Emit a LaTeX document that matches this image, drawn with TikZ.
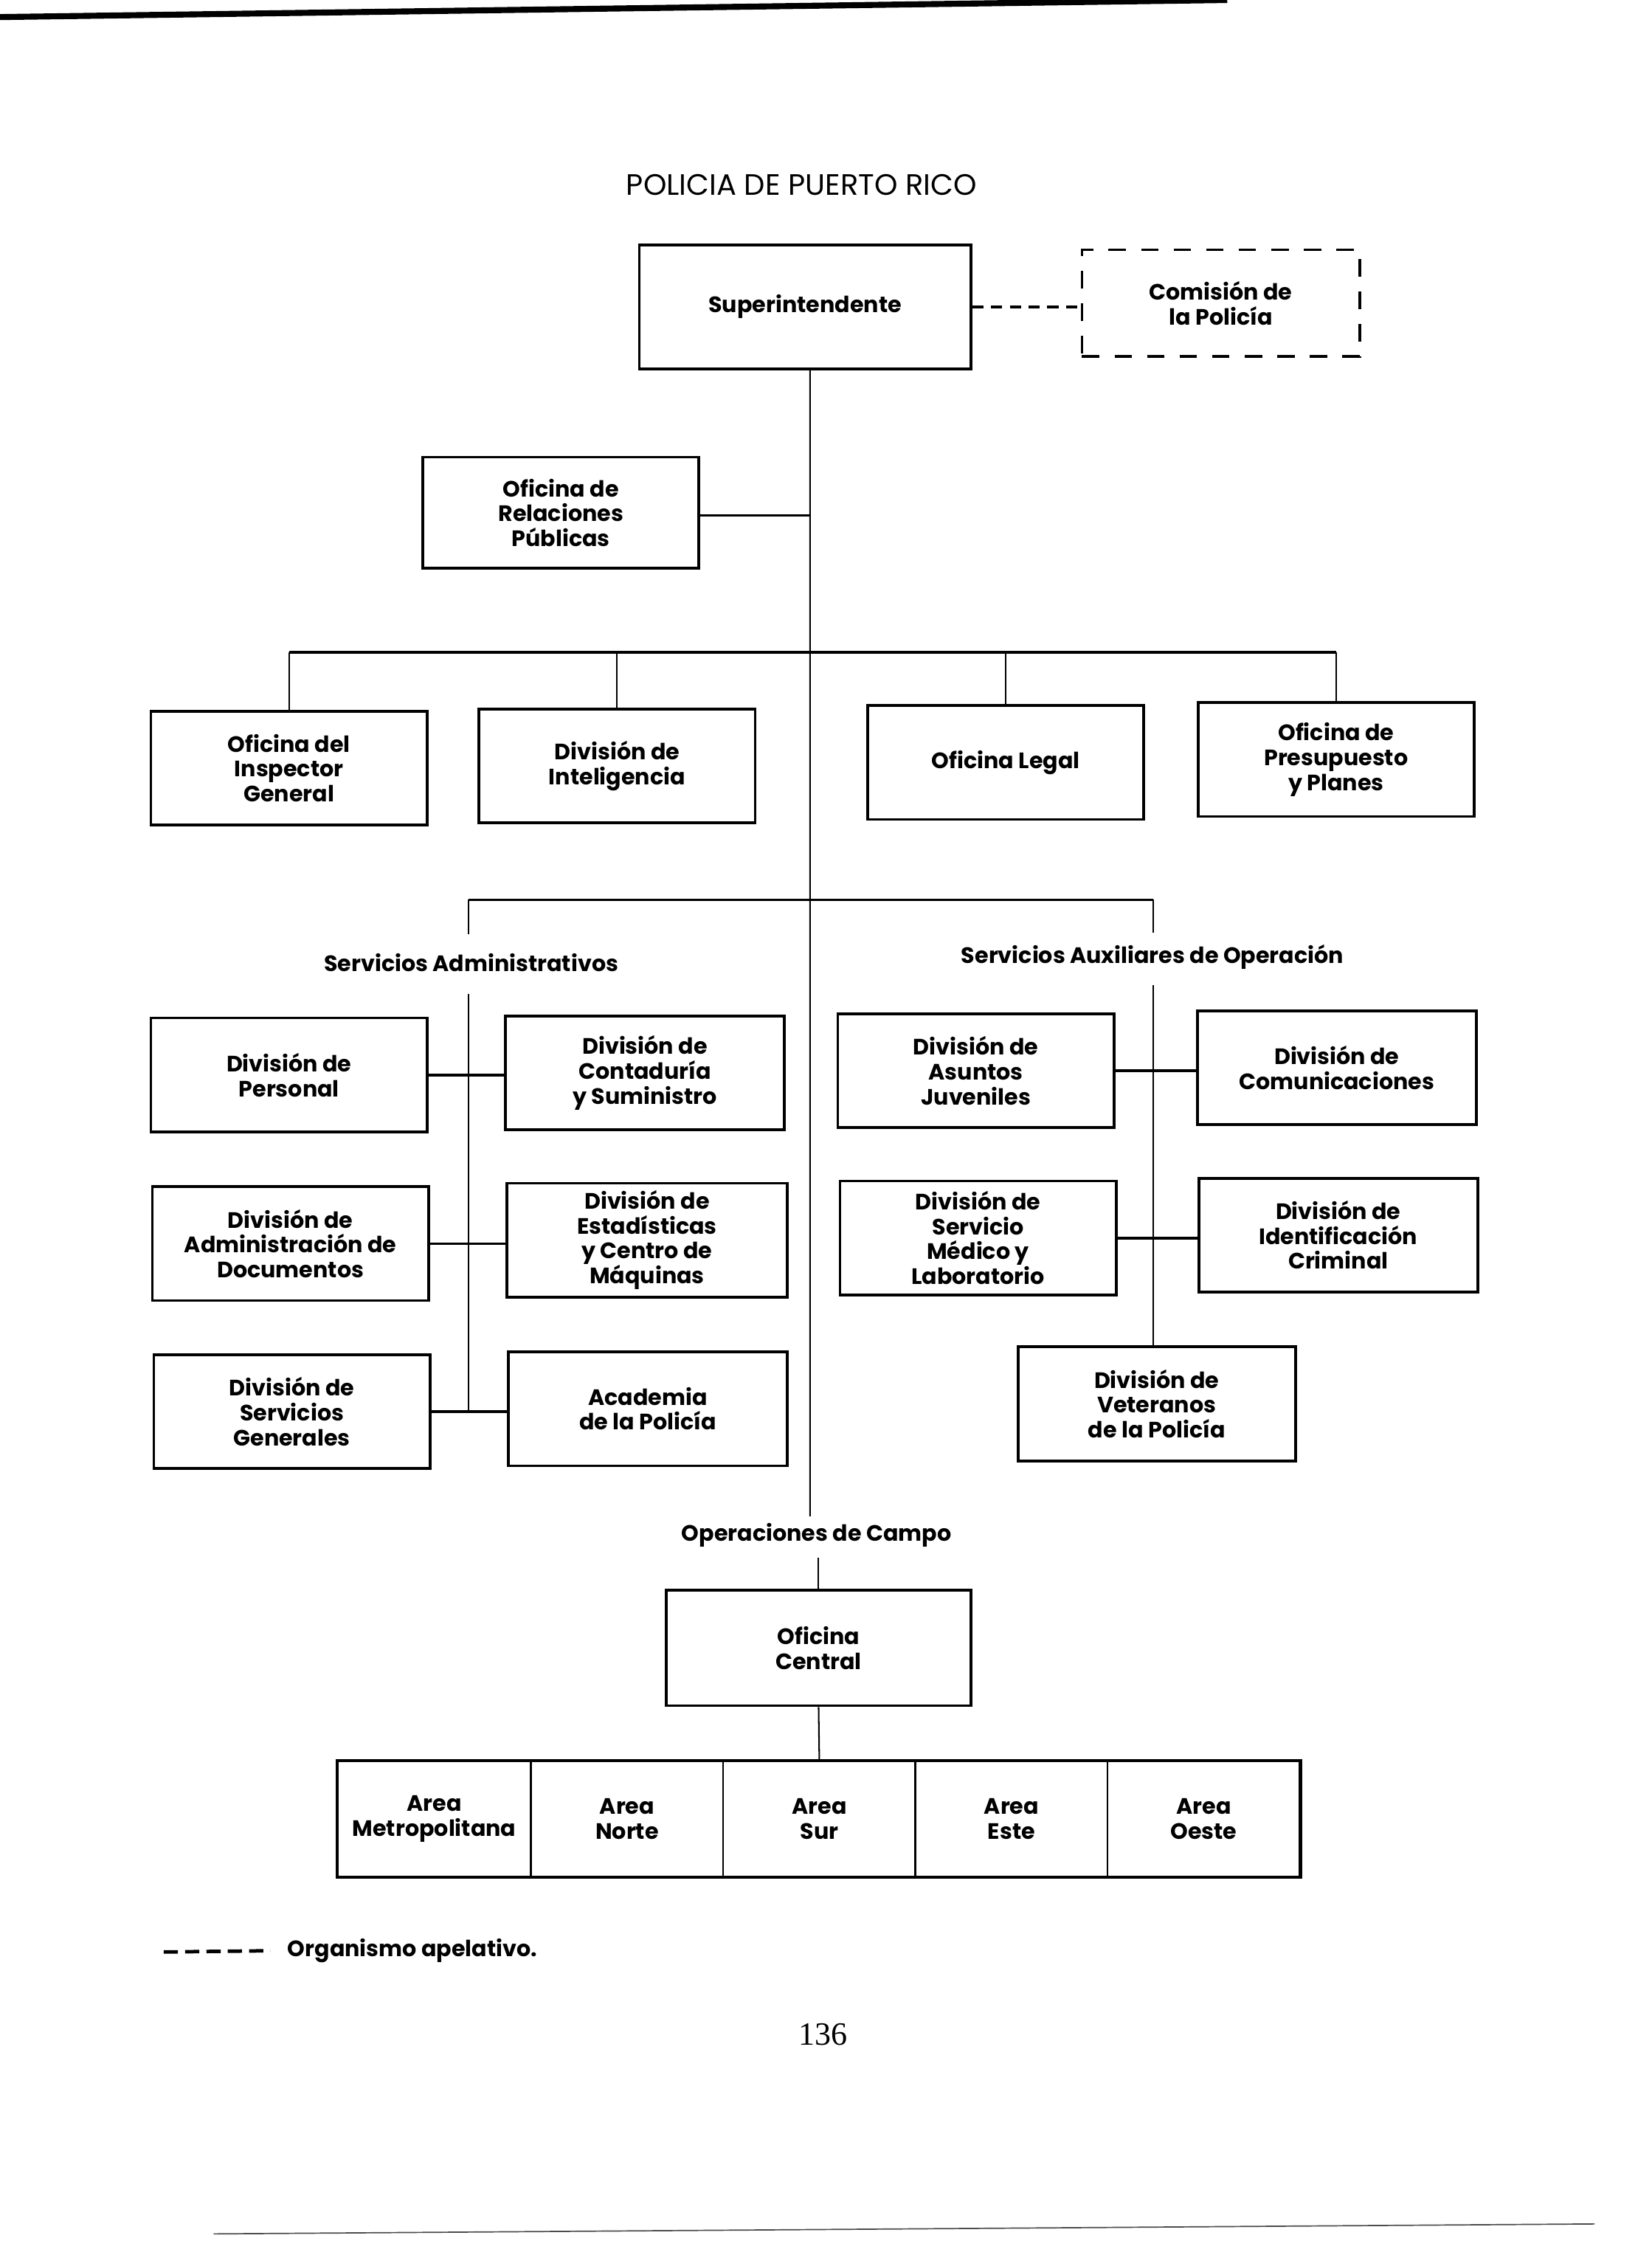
\documentclass[tikz,border=0pt]{standalone}
\usepackage{fontspec}
\setmainfont{Poppins}
\newfontfamily\pagefont{Liberation Serif}
\usetikzlibrary{calc}
\begin{document}
\begin{tikzpicture}[x=0.02cm,y=-0.02cm,
  boxtxt/.style={font=\bfseries\fontsize{8.9}{9.9}\selectfont},
  box/.style={draw, line width=1.1pt, rectangle, inner sep=0pt, align=center,
    minimum width=3.88cm, minimum height=1.6cm, boxtxt},
  areabox/.style={draw, line width=0.7pt, rectangle, inner sep=0pt, align=center,
    minimum width=2.7cm, minimum height=1.62cm, boxtxt},
  thinline/.style={line width=0.6pt},
  thickline/.style={line width=1.1pt},
  lbl/.style={boxtxt, inner sep=1pt}]
\useasboundingbox (0,0) rectangle (1160,1574);
\fill[white] (0,0) rectangle (1160,1574);

% page edges of the scan
\coordinate (edgeA) at (0,12);
\coordinate (edgeB) at (862,0);
\draw[line width=2.4pt] (edgeA) -- (edgeB);
\coordinate (edgeC) at (150,1569);
\coordinate (edgeD) at (1120,1562);
\draw[line width=0.5pt, black!70] (edgeC) -- (edgeD);

% title
\node[font=\fontsize{11.8}{14}\selectfont] (title) at (563,130) {POLICIA DE PUERTO RICO};

% top
\node[box, minimum width=4.66cm, minimum height=1.74cm] (super) at (565.5,215.5) {Superintendente};
\node[box, dash pattern=on 7pt off 6pt, minimum width=3.9cm, minimum height=1.5cm] (comision) at (857.5,213) {Comisi\'on de\\la Polic\'{\i}a};
\draw[thickline, dash pattern=on 4.5pt off 3pt] (super.east) -- (super.east -| comision.west);

\node[box, minimum height=1.56cm] (relpub) at (394,360) {Oficina de\\Relaciones\\P\'ublicas};

% trunk
\coordinate (trunkEnd) at (569,1065);
\draw[thinline] ([xshift=0.07cm]super.south) -- (trunkEnd);
\coordinate (jRel) at (569,362);
\coordinate (jBus1) at (569,458);
\coordinate (jBus2) at (569,632);
\draw[thickline] (relpub.east |- jRel) -- (jRel);

% first level
\node[box] (insp) at (203,539.5) {Oficina del\\Inspector\\General};
\node[box] (intel) at (433.5,538) {Divisi\'on de\\Inteligencia};
\node[box] (legal) at (706.5,535.5) {Oficina Legal};
\node[box] (presup) at (938.5,533.5) {Oficina de\\Presupuesto\\y Planes};
\coordinate (b1L) at (insp.north |- jBus1);
\coordinate (b1R) at (presup.north |- jBus1);
\draw[thickline] (b1L) -- (b1R);
\foreach \n in {insp,intel,legal,presup}{
  \draw[thinline] (\n.north) -- (\n.north |- jBus1);
}

% service groups
\coordinate (b2L) at (329,632);
\coordinate (b2R) at (810,632);
\draw[thickline] (b2L) -- (b2R);
\coordinate (b2Lend) at (329,656);
\coordinate (b2Rend) at (810,655);
\draw[thinline] (b2L) -- (b2Lend);
\draw[thinline] (b2R) -- (b2Rend);
\node[lbl] (sadm) at (331,676) {Servicios Administrativos};
\node[lbl] (saux) at (809.5,672) {Servicios Auxiliares de Operaci\'on};

% administrative services
\node[box] (personal) at (203,755) {Divisi\'on de\\Personal};
\node[box] (admdoc) at (204,873.5) {Divisi\'on de\\Administraci\'on de\\Documentos};
\node[box] (servgen) at (205,991.5) {Divisi\'on de\\Servicios\\Generales};
\node[box, minimum width=3.92cm] (contad) at (453,753.5) {Divisi\'on de\\Contadur\'{\i}a\\y Suministro};
\node[box, minimum width=3.94cm] (estad) at (454.5,871) {Divisi\'on de\\Estad\'{\i}sticas\\y Centro de\\M\'aquinas};
\node[box, minimum width=3.92cm] (academia) at (455,989.5) {Academia\\de la Polic\'{\i}a};
\coordinate (sL1) at (329,698);
\coordinate (sL2) at (329,992);
\draw[thinline] (sL1) -- (sL2);
\draw[thickline] (personal.east) -- (personal.east -| contad.west);
\draw[thickline] (admdoc.east) -- (admdoc.east -| estad.west);
\draw[thickline] (servgen.east) -- (servgen.east -| academia.west);

% auxiliary services
\node[box] (juven) at (685.5,752) {Divisi\'on de\\Asuntos\\Juveniles};
\node[box, minimum width=3.92cm] (comunic) at (939,750) {Divisi\'on de\\Comunicaciones};
\node[box] (medico) at (687,869.5) {Divisi\'on de\\Servicio\\M\'edico y\\Laboratorio};
\node[box, minimum width=3.92cm] (ident) at (940,867.5) {Divisi\'on de\\Identificaci\'on\\Criminal};
\node[box, minimum width=3.9cm] (veter) at (812.5,986) {Divisi\'on de\\Veteranos\\de la Polic\'{\i}a};
\coordinate (sR1) at (810,692);
\draw[thinline] (sR1) -- (sR1 |- veter.north);
\draw[thickline] (juven.east) -- (juven.east -| comunic.west);
\draw[thickline] (medico.east) -- (medico.east -| ident.west);

% field operations
\node[lbl] (opc) at (573.5,1078) {Operaciones de Campo};
\node[box, minimum width=4.28cm, minimum height=1.62cm] (central) at (575,1157.5) {Oficina\\Central};
\coordinate (opBot) at (575,1094);
\draw[thinline] (opBot) -- (central.north);

\node[areabox] (aMet) at (305,1277.5) {Area\\Metropolitana};
\node[areabox] (aNor) at (440.5,1277.5) {Area\\Norte};
\node[areabox] (aSur) at (575.5,1277.5) {Area\\Sur};
\node[areabox] (aEst) at (710.5,1277.5) {Area\\Este};
\node[areabox] (aOes) at (845.5,1277.5) {Area\\Oeste};
\draw[thickline] (aMet.north west) rectangle (aOes.south east);
\draw[thinline] (central.south) -- (aSur.north);

% legend
\node[lbl, anchor=west] (legend) at (200,1370) {Organismo apelativo.};
\coordinate (lg1) at (115,1371);
\draw[line width=1.4pt, dash pattern=on 0.2cm off 0.1cm, shorten >=0.2cm] (lg1) -- (legend.west);

% page number
\node[font=\pagefont\fontsize{13}{15}\selectfont] (page) at (578,1429) {136};
\end{tikzpicture}
\end{document}
